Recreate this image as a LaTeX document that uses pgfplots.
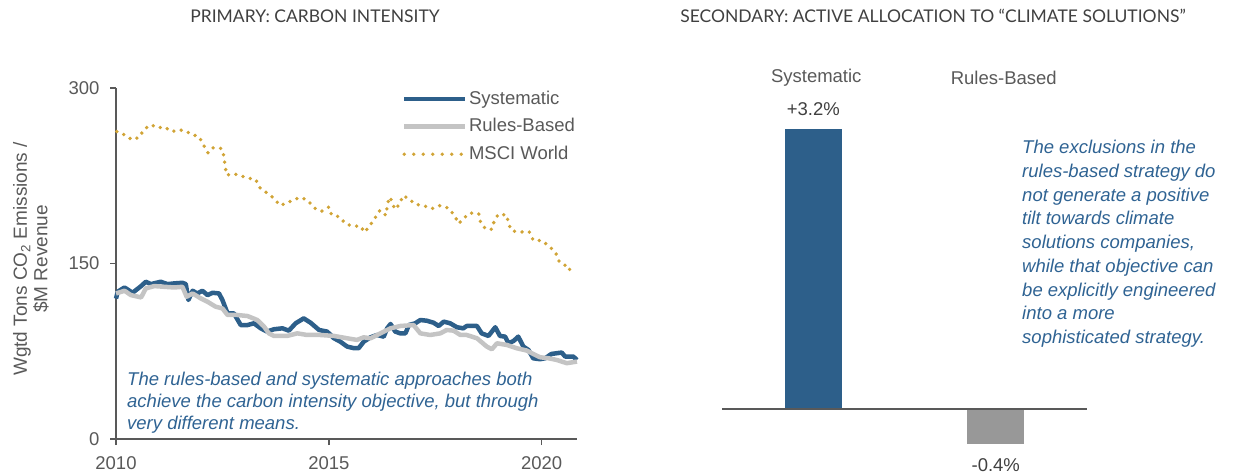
\documentclass[border=0pt]{standalone}
\usepackage{pgfplots}
\pgfplotsset{compat=1.18}
\usepackage{fontspec}
\setmainfont{Liberation Sans}
\newfontfamily\titlefont{Lato}

\definecolor{sysblue}{HTML}{2D5F8A}
\definecolor{rbgray}{HTML}{C4C4C4}
\definecolor{barGray}{HTML}{989898}
\definecolor{msci}{HTML}{D1A436}
\definecolor{axisgray}{HTML}{595959}
\definecolor{txtgray}{HTML}{404040}
\definecolor{notecol}{HTML}{2F6393}

\newcommand{\lbl}{\fontsize{18.5}{22}\selectfont}

\begin{document}
\begin{tikzpicture}[x=1pt,y=1pt]
\useasboundingbox (0,0) rectangle (1241,475);

% titles
\node[font=\titlefont\fontsize{17.5}{20}\selectfont, text=txtgray] at (315,459) {PRIMARY: CARBON INTENSITY};
\node[font=\titlefont\fontsize{17.5}{20}\selectfont, text=txtgray] at (933,459) {SECONDARY: ACTIVE ALLOCATION TO “CLIMATE SOLUTIONS”};

% y label of left panel
\node[rotate=90, align=center, text=axisgray, font=\fontsize{19}{20.5}\selectfont] at (31,216)
  {Wgtd Tons CO\textsubscript{2} Emissions /\\ \$M Revenue};

\begin{axis}[
  at={(116pt,36pt)}, anchor=south west,
  width=461pt, height=351pt, scale only axis,
  xmin=2010, xmax=2020.83, ymin=0, ymax=300,
  axis lines*=left,
  axis line style={axisgray, line width=1.8pt},
  xtick={2010,2015,2020}, xticklabels={2010,2015,2020},
  ytick={0,150,300},
  tick align=outside, major tick length=6pt,
  tick style={axisgray, line width=1.5pt},
  ticklabel style={font=\lbl, text=axisgray},
  /pgf/number format/assume math mode=true,
  xticklabel shift=8pt, yticklabel shift=7pt,
  legend style={at={(axis description cs:0.62,1.0)}, anchor=north west,
    draw=none, fill=none, font=\lbl, text=axisgray, inner sep=0pt,
    row sep=5.5pt, nodes={inner sep=2pt, text height=14pt, text depth=4pt}},
  legend cell align=left,
  legend image code/.code={\draw[#1] (1.5pt,0pt) -- (62pt,0pt);},
  clip=false,
]
\addlegendimage{sysblue, line width=4.5pt}
\addlegendentry{Systematic}
\addlegendimage{rbgray, line width=4.5pt}
\addlegendentry{Rules-Based}
\addlegendimage{msci, line width=3.8pt, line cap=round, dash pattern=on 0pt off 9.5pt}
\addlegendentry{MSCI World}

\addplot[sysblue, line width=4.5pt, line join=round, forget plot] coordinates {
(2010.00,120.0) (2010.04,125.9) (2010.20,129.5) (2010.39,125.0) (2010.59,130.7)
(2010.70,134.4) (2010.82,132.4) (2011.05,134.4) (2011.21,132.4) (2011.37,133.0)
(2011.56,133.5) (2011.64,132.4) (2011.70,118.8) (2011.80,126.7) (2011.91,124.4)
(2012.03,126.7) (2012.15,123.0) (2012.27,125.0) (2012.42,124.4) (2012.50,118.8)
(2012.62,107.4) (2012.77,107.4) (2012.93,97.4) (2013.09,97.4) (2013.24,98.9)
(2013.40,94.6) (2013.55,91.8) (2013.71,93.8) (2013.91,94.6) (2014.06,92.6)
(2014.22,98.9) (2014.41,103.1) (2014.57,99.4) (2014.77,93.2) (2014.96,91.8)
(2015.12,86.1) (2015.27,83.2) (2015.43,79.0) (2015.59,77.6) (2015.70,77.6)
(2015.82,83.2) (2015.98,86.9) (2016.13,88.9) (2016.29,87.5) (2016.37,94.6)
(2016.45,98.3) (2016.56,91.8) (2016.68,90.3) (2016.80,90.3) (2016.88,97.4)
(2017.03,98.9) (2017.15,101.7) (2017.30,101.1) (2017.46,99.4) (2017.58,96.6)
(2017.70,100.3) (2017.85,98.9) (2018.01,95.5) (2018.16,94.6) (2018.24,96.6)
(2018.48,96.6) (2018.59,90.3) (2018.75,88.1) (2018.91,95.5) (2019.02,88.1)
(2019.14,87.5) (2019.22,81.8) (2019.34,83.8) (2019.45,87.5) (2019.57,79.0)
(2019.69,76.1) (2019.80,69.0) (2019.96,68.2) (2020.08,69.0) (2020.23,72.7)
(2020.47,73.9) (2020.55,70.5) (2020.74,70.5) (2020.83,67.6)
};
\addplot[rbgray, line width=4.5pt, line join=round, forget plot] coordinates {
(2010.00,124.4) (2010.20,126.7) (2010.35,123.0) (2010.59,121.0) (2010.70,128.7)
(2010.90,130.7) (2011.13,130.1) (2011.37,129.5) (2011.56,130.1) (2011.66,121.6)
(2011.80,124.4) (2011.99,120.2) (2012.15,117.3) (2012.34,113.1) (2012.50,111.6)
(2012.62,106.0) (2012.85,106.0) (2013.09,105.1) (2013.32,101.7) (2013.48,96.0)
(2013.59,90.3) (2013.71,88.1) (2014.02,88.1) (2014.26,90.3) (2014.49,88.9)
(2014.80,88.9) (2015.12,88.1) (2015.43,86.1) (2015.66,84.7) (2015.82,86.9)
(2015.98,86.1) (2016.21,90.3) (2016.45,94.6) (2016.68,96.6) (2016.99,97.4)
(2017.15,90.3) (2017.38,88.9) (2017.62,90.3) (2017.77,93.2) (2017.93,92.6)
(2018.09,88.9) (2018.24,88.9) (2018.48,86.1) (2018.71,79.0) (2018.83,76.7)
(2018.95,81.8) (2019.18,80.4) (2019.41,77.6) (2019.65,75.6) (2019.80,72.7)
(2019.96,69.9) (2020.16,69.0) (2020.35,67.6) (2020.59,64.8) (2020.83,66.2)
};
\addplot[msci, line width=3.8pt, line cap=round, dash pattern=on 0pt off 7.5pt, forget plot] coordinates {
(2010.02,262.8) (2010.20,260.0) (2010.38,255.7) (2010.55,258.0) (2010.66,264.8)
(2010.82,268.5) (2011.00,265.9) (2011.13,266.8) (2011.31,262.8) (2011.50,264.2)
(2011.64,263.1) (2011.80,260.0) (2011.95,258.5) (2012.05,251.7) (2012.16,244.6)
(2012.27,248.9) (2012.48,248.3) (2012.54,241.5) (2012.56,233.5) (2012.60,225.6)
(2012.77,226.7) (2012.93,225.0) (2013.09,223.0) (2013.28,221.9) (2013.38,214.8)
(2013.54,210.5) (2013.71,205.7) (2013.85,199.7) (2014.02,201.7) (2014.20,205.1)
(2014.36,206.3) (2014.52,203.4) (2014.66,197.4) (2014.83,194.6) (2015.00,198.3)
(2015.06,191.8) (2015.25,189.8) (2015.39,184.1) (2015.56,181.8) (2015.74,182.1)
(2015.84,176.7) (2015.96,182.1) (2016.09,189.2) (2016.20,195.5) (2016.34,191.2)
(2016.38,201.1) (2016.43,206.8) (2016.48,203.1) (2016.55,196.3) (2016.66,200.6)
(2016.74,208.0) (2016.88,205.4) (2017.03,200.6) (2017.23,199.4) (2017.42,196.9)
(2017.60,199.4) (2017.81,197.4) (2017.95,191.2) (2018.05,184.1) (2018.16,188.4)
(2018.32,193.2) (2018.52,192.6) (2018.57,184.7) (2018.69,179.3) (2018.83,179.3)
(2018.89,186.9) (2018.98,192.0) (2019.18,191.5) (2019.22,183.5) (2019.31,177.8)
(2019.49,177.0) (2019.71,177.0) (2019.80,169.9) (2020.00,169.6) (2020.17,165.0)
(2020.33,159.1) (2020.41,152.0) (2020.52,150.0) (2020.62,144.3) (2020.78,147.2)
};
\end{axis}

% note in left panel
\node[anchor=north west, align=left, inner sep=0pt, text=notecol,
  font=\itshape\fontsize{18.5}{22}\selectfont] at (127,103)
  {The rules-based and systematic approaches both\\
   achieve the carbon intensity objective, but through\\
   very different means.};

\begin{axis}[
  at={(722pt,22pt)}, anchor=south west,
  width=365pt, height=350pt, scale only axis,
  xmin=-0.5, xmax=1.5, ymin=-0.5, ymax=3.5,
  axis lines=none, clip=false,
]
\addplot[ybar, bar width=57pt, bar shift=0pt, fill=sysblue, draw=none,
  nodes near coords={+3.2\%}, every node near coord/.append style={font=\lbl, text=txtgray, yshift=10pt}]
  coordinates {(0,3.2)};
\addplot[ybar, bar width=57pt, bar shift=0pt, fill=barGray, draw=none,
  nodes near coords={-0.4\%}, every node near coord/.append style={font=\lbl, text=txtgray, yshift=-11pt}]
  coordinates {(1,-0.4)};
\draw[axisgray, line width=1.8pt] (axis cs:-0.5,0) -- (axis cs:1.5,0);
\node[font=\lbl, text=axisgray] at (axis cs:0,3.5) [yshift=25pt, xshift=3pt] {Systematic};
\node[font=\lbl, text=axisgray] at (axis cs:1,3.5) [yshift=25pt, xshift=8pt] {Rules-Based};
\end{axis}

% note in right panel
\node[anchor=north west, align=left, inner sep=0pt, text=notecol,
  font=\itshape\fontsize{18.5}{23.75}\selectfont] at (1022,335)
  {The exclusions in the\\
   rules-based strategy do\\
   not generate a positive\\
   tilt towards climate\\
   solutions companies,\\
   while that objective can\\
   be explicitly engineered\\
   into a more\\
   sophisticated strategy.};
\end{tikzpicture}
\end{document}
